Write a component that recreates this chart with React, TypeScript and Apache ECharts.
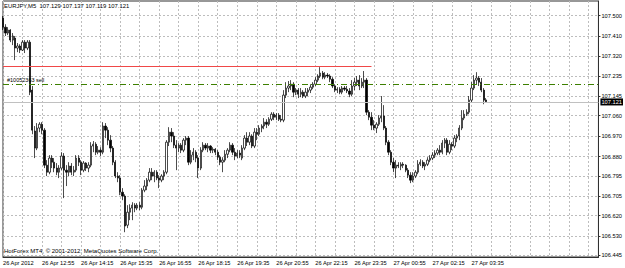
import React, { useEffect, useRef } from 'react';
import * as echarts from 'echarts';

const symbolTitle = 'EURJPY,M5';
const lastQuote = ['107.129', '107.137', '107.119', '107.121'];
const copyright = 'HotForex MT4, © 2001-2012, MetaQuotes Software Corp.';

const priceTicks = [106.445, 106.53, 106.62, 106.705, 106.795, 106.88, 106.97, 107.06, 107.145, 107.235, 107.32, 107.41, 107.5];
const timeTickLabels = [
  '26 Apr 2012', '26 Apr 12:55', '26 Apr 14:15', '26 Apr 15:35', '26 Apr 16:55', '26 Apr 18:15',
  '26 Apr 19:35', '26 Apr 20:55', '26 Apr 22:15', '26 Apr 23:35', '27 Apr 00:55', '27 Apr 02:15', '27 Apr 03:35',
];
const barsPerTimeLabel = 16;
const barsPerGridLine = 8;

// [open, close, low, high]
const bars: number[][] = [
  [107.489, 107.449, 107.436, 107.498], [107.449, 107.423, 107.410, 107.462], [107.423, 107.436, 107.414, 107.449],
  [107.436, 107.392, 107.383, 107.440], [107.392, 107.410, 107.370, 107.423], [107.401, 107.357, 107.304, 107.410],
  [107.357, 107.366, 107.339, 107.379], [107.366, 107.348, 107.335, 107.374], [107.348, 107.383, 107.344, 107.392],
  [107.383, 107.357, 107.335, 107.392], [107.357, 107.383, 107.348, 107.392], [107.383, 107.163, 107.150, 107.392],
  [107.172, 106.996, 106.978, 107.190], [106.992, 106.917, 106.873, 107.014], [106.917, 107.005, 106.908, 107.027],
  [107.005, 107.022, 106.987, 107.031], [107.022, 106.996, 106.978, 107.031], [106.996, 106.842, 106.829, 107.005],
  [106.842, 106.811, 106.794, 106.864], [106.811, 106.873, 106.802, 106.886], [106.873, 106.855, 106.829, 106.886],
  [106.855, 106.829, 106.811, 106.873], [106.829, 106.811, 106.798, 106.851], [106.811, 106.829, 106.785, 106.842],
  [106.829, 106.882, 106.820, 106.899], [106.882, 106.820, 106.697, 106.895], [106.820, 106.811, 106.750, 106.842],
  [106.811, 106.838, 106.794, 106.855], [106.838, 106.811, 106.798, 106.851], [106.811, 106.820, 106.794, 106.838],
  [106.820, 106.873, 106.811, 106.886], [106.873, 106.855, 106.838, 106.886], [106.855, 106.820, 106.798, 106.864],
  [106.820, 106.851, 106.811, 106.860], [106.851, 106.829, 106.816, 106.855], [106.829, 106.842, 106.811, 106.855],
  [106.842, 106.926, 106.833, 106.943], [106.926, 106.934, 106.899, 106.948], [106.934, 106.899, 106.886, 106.943],
  [106.899, 106.908, 106.890, 106.926], [106.908, 106.899, 106.882, 106.921], [106.899, 107.014, 106.890, 107.031],
  [107.014, 106.996, 106.961, 107.027], [106.996, 106.952, 106.930, 107.009], [106.952, 106.917, 106.899, 106.974],
  [106.917, 106.855, 106.842, 106.926], [106.855, 106.794, 106.785, 106.864], [106.794, 106.785, 106.767, 106.811],
  [106.785, 106.723, 106.710, 106.798], [106.723, 106.706, 106.688, 106.741], [106.706, 106.574, 106.547, 106.714],
  [106.578, 106.635, 106.565, 106.666], [106.635, 106.653, 106.600, 106.670], [106.653, 106.666, 106.600, 106.679],
  [106.666, 106.653, 106.635, 106.675], [106.653, 106.666, 106.644, 106.675], [106.666, 106.657, 106.644, 106.679],
  [106.657, 106.732, 106.648, 106.741], [106.732, 106.750, 106.723, 106.776], [106.750, 106.776, 106.732, 106.785],
  [106.776, 106.811, 106.767, 106.829], [106.811, 106.794, 106.776, 106.829], [106.794, 106.811, 106.767, 106.820],
  [106.811, 106.785, 106.776, 106.820], [106.785, 106.776, 106.741, 106.798], [106.776, 106.794, 106.767, 106.802],
  [106.794, 106.811, 106.776, 106.820], [106.811, 106.943, 106.802, 106.952], [106.943, 106.987, 106.926, 107.009],
  [106.987, 106.970, 106.943, 107.005], [106.970, 106.930, 106.917, 106.987], [106.930, 106.917, 106.820, 106.952],
  [106.917, 106.930, 106.899, 106.939], [106.930, 106.908, 106.895, 106.939], [106.908, 106.952, 106.899, 106.961],
  [106.952, 106.961, 106.930, 106.970], [106.961, 106.855, 106.842, 106.970], [106.855, 106.886, 106.846, 106.908],
  [106.886, 106.899, 106.864, 106.917], [106.899, 106.873, 106.855, 106.908], [106.873, 106.829, 106.785, 106.886],
  [106.829, 106.908, 106.820, 106.921], [106.908, 106.930, 106.899, 106.943], [106.930, 106.917, 106.908, 106.939],
  [106.917, 106.926, 106.899, 106.939], [106.926, 106.908, 106.895, 106.930], [106.908, 106.912, 106.895, 106.921],
  [106.912, 106.899, 106.886, 106.917], [106.899, 106.877, 106.864, 106.908], [106.877, 106.855, 106.842, 106.886],
  [106.855, 106.864, 106.811, 106.877], [106.864, 106.890, 106.855, 106.908], [106.890, 106.908, 106.873, 106.917],
  [106.908, 106.930, 106.899, 106.943], [106.930, 106.899, 106.886, 106.939], [106.899, 106.882, 106.864, 106.917],
  [106.882, 106.895, 106.873, 106.908], [106.895, 106.886, 106.873, 106.908], [106.873, 106.917, 106.864, 106.930],
  [106.917, 106.961, 106.908, 106.974], [106.961, 106.943, 106.926, 106.987], [106.943, 106.970, 106.930, 106.987],
  [106.970, 106.926, 106.917, 106.978], [106.926, 106.987, 106.917, 107.005], [106.987, 106.978, 106.952, 107.005],
  [106.978, 107.005, 106.970, 107.018], [107.005, 107.014, 106.987, 107.022], [107.014, 107.031, 107.000, 107.049],
  [107.031, 107.022, 107.005, 107.044], [107.022, 107.044, 107.014, 107.053], [107.044, 107.066, 107.036, 107.075],
  [107.066, 107.053, 107.040, 107.075], [107.053, 107.062, 107.040, 107.071], [107.062, 107.044, 107.036, 107.071],
  [107.044, 107.040, 107.031, 107.062], [107.040, 107.150, 107.031, 107.172], [107.150, 107.181, 107.137, 107.207],
  [107.181, 107.190, 107.163, 107.212], [107.190, 107.198, 107.172, 107.216], [107.198, 107.163, 107.141, 107.207],
  [107.163, 107.172, 107.150, 107.181], [107.172, 107.154, 107.137, 107.181], [107.154, 107.163, 107.141, 107.181],
  [107.163, 107.146, 107.137, 107.172], [107.146, 107.163, 107.137, 107.181], [107.163, 107.172, 107.146, 107.181],
  [107.172, 107.185, 107.159, 107.198], [107.185, 107.198, 107.176, 107.207], [107.198, 107.216, 107.190, 107.229],
  [107.216, 107.234, 107.207, 107.242], [107.234, 107.247, 107.225, 107.273], [107.247, 107.229, 107.220, 107.256],
  [107.229, 107.238, 107.220, 107.251], [107.238, 107.234, 107.225, 107.247], [107.234, 107.220, 107.207, 107.242],
  [107.220, 107.190, 107.181, 107.229], [107.190, 107.172, 107.163, 107.198], [107.172, 107.176, 107.159, 107.185],
  [107.176, 107.163, 107.154, 107.185], [107.163, 107.181, 107.154, 107.190], [107.181, 107.176, 107.168, 107.190],
  [107.176, 107.168, 107.159, 107.190], [107.168, 107.154, 107.141, 107.181], [107.154, 107.190, 107.146, 107.216],
  [107.190, 107.207, 107.172, 107.225], [107.207, 107.216, 107.190, 107.234], [107.216, 107.190, 107.172, 107.238],
  [107.190, 107.207, 107.181, 107.225], [107.207, 107.216, 107.181, 107.256], [107.216, 107.075, 107.062, 107.225],
  [107.075, 107.053, 107.040, 107.084], [107.053, 107.018, 106.996, 107.075], [107.018, 107.005, 106.996, 107.040],
  [107.005, 107.022, 106.983, 107.031], [107.022, 107.049, 107.014, 107.062], [107.049, 107.058, 107.031, 107.146],
  [107.058, 107.005, 106.996, 107.106], [107.005, 106.943, 106.930, 107.014], [106.943, 106.899, 106.886, 106.952],
  [106.899, 106.855, 106.842, 106.908], [106.855, 106.829, 106.811, 106.873], [106.829, 106.842, 106.785, 106.864],
  [106.842, 106.838, 106.829, 106.855], [106.838, 106.846, 106.820, 106.855], [106.846, 106.842, 106.829, 106.855],
  [106.842, 106.820, 106.811, 106.846], [106.820, 106.798, 106.785, 106.829], [106.798, 106.776, 106.763, 106.811],
  [106.776, 106.794, 106.767, 106.811], [106.794, 106.811, 106.785, 106.820], [106.811, 106.846, 106.802, 106.864],
  [106.846, 106.855, 106.838, 106.868], [106.855, 106.838, 106.829, 106.864], [106.838, 106.846, 106.820, 106.855],
  [106.846, 106.864, 106.838, 106.877], [106.864, 106.873, 106.855, 106.886], [106.873, 106.886, 106.864, 106.899],
  [106.886, 106.895, 106.873, 106.908], [106.895, 106.908, 106.886, 106.917], [106.908, 106.899, 106.886, 106.930],
  [106.899, 106.939, 106.890, 106.952], [106.939, 106.952, 106.917, 106.961], [106.952, 106.899, 106.886, 106.961],
  [106.899, 106.934, 106.890, 106.952], [106.934, 106.926, 106.908, 106.943], [106.926, 106.961, 106.917, 106.974],
  [106.961, 106.970, 106.943, 106.978], [106.970, 107.005, 106.952, 107.018], [107.005, 107.049, 106.996, 107.084],
  [107.049, 107.066, 107.040, 107.084], [107.066, 107.075, 107.058, 107.088], [107.075, 107.128, 107.066, 107.146],
  [107.128, 107.181, 107.119, 107.207], [107.181, 107.216, 107.172, 107.238], [107.216, 107.225, 107.198, 107.251],
  [107.225, 107.207, 107.190, 107.234], [107.207, 107.172, 107.163, 107.225], [107.172, 107.128, 107.110, 107.181],
  [107.129, 107.121, 107.119, 107.137],
];
const emptyBarsRight = 46;
const firstBar = { day: 26, hour: 11, minute: 35 };
const barMinutes = 5;

const bidPrice = 107.121;
const sellPrice = 107.2;
const sellLabel = '#10052363 sell';
const redLinePrice = 107.277;
const redLineEndBar = 151;

const FONT = 'Liberation Sans, Arial, sans-serif';
const LABEL_SIZE = 5.7;
const LABEL_MARGIN = 3;
const pad = (n: number) => (n < 10 ? '0' + n : '' + n);
const categories: string[] = [];
for (let i = 0; i < bars.length + emptyBarsRight; i++) {
  const total = firstBar.hour * 60 + firstBar.minute + i * barMinutes;
  const day = firstBar.day + Math.floor(total / 1440);
  const m = total % 1440;
  categories.push(day + ' Apr ' + pad(Math.floor(m / 60)) + ':' + pad(m % 60));
}

export default function App() {
  const ref = useRef<HTMLDivElement>(null);
  useEffect(() => {
    if (!ref.current) return;
    const chart = echarts.init(ref.current, undefined, { renderer: 'svg' });
    const gridLine = { show: true, lineStyle: { color: '#bdbdbd', type: [2, 2] as any, width: 1 } };
    const baseGraphic = [
      {
        id: 'title', type: 'text', left: 4, top: 3,
        style: { text: symbolTitle + '  ' + lastQuote.join(' '), fontSize: 5.9, fill: '#000', fontFamily: FONT },
      },
      {
        id: 'copyright', type: 'text', left: 4, top: 248,
        style: { text: copyright, fontSize: 6, fill: '#000', fontFamily: FONT },
      },
    ];
    chart.setOption({
      animation: false,
      backgroundColor: '#ffffff',
      textStyle: { fontFamily: FONT },
      grid: { left: 1, right: 24, top: 1, bottom: 11, show: true, borderColor: '#303030', borderWidth: 1, containLabel: false },
      xAxis: {
        type: 'category',
        data: categories,
        boundaryGap: false,
        axisLine: { show: true, lineStyle: { color: '#303030' } },
        axisTick: { show: false },
        splitLine: { ...gridLine, interval: barsPerGridLine - 1 },
        axisLabel: {
          interval: barsPerTimeLabel - 1,
          align: 'left',
          fontSize: LABEL_SIZE,
          color: '#000',
          margin: LABEL_MARGIN,
          fontFamily: FONT,
          formatter: (_v: string, idx: number) =>
            idx % barsPerTimeLabel === 0 ? timeTickLabels[idx / barsPerTimeLabel] ?? '' : '',
        },
      },
      yAxis: {
        type: 'value',
        position: 'right',
        min: 106.438,
        max: 107.564,
        scale: true,
        axisLine: { show: true, lineStyle: { color: '#303030' } },
        axisTick: { show: true, length: 2, customValues: priceTicks, lineStyle: { color: '#303030' } },
        splitLine: gridLine,
        axisLabel: {
          customValues: priceTicks.slice(1),
          showMinLabel: true,
          showMaxLabel: true,
          fontSize: LABEL_SIZE,
          color: '#000',
          margin: LABEL_MARGIN,
          fontFamily: FONT,
          formatter: (v: number) => v.toFixed(3),
        },
      },
      graphic: baseGraphic,
      series: [
        {
          type: 'candlestick',
          data: bars,
          barWidth: 1.8,
          itemStyle: { color: '#ffffff', color0: '#000000', borderColor: '#000000', borderColor0: '#000000', borderWidth: 0.7 },
          markLine: {
            silent: true,
            symbol: ['none', 'none'],
            animation: false,
            data: [
              {
                yAxis: bidPrice,
                lineStyle: { color: '#c0c0c0', type: 'solid', width: 1 },
                label: {
                  show: true, position: 'end', distance: 2, formatter: bidPrice.toFixed(3),
                  color: '#fff', backgroundColor: '#000', padding: [1, 1, 0, 1], fontSize: LABEL_SIZE, fontFamily: FONT,
                },
              },
              {
                yAxis: sellPrice - 0.0035,
                lineStyle: { color: '#e0a060', type: [6, 3, 1, 3], width: 1, opacity: 0.8 },
                label: { show: false },
              },
              {
                yAxis: sellPrice,
                lineStyle: { color: '#3d7f00', type: [6, 3, 1, 3], width: 1 },
                label: {
                  show: true, position: 'insideStartTop', distance: [4, 1], formatter: sellLabel,
                  color: '#000', fontSize: 5.5, fontFamily: FONT,
                },
              },
              [
                { coord: [categories[0], redLinePrice], lineStyle: { color: '#f04848', type: 'solid', width: 1 }, label: { show: false } },
                { coord: [categories[redLineEndBar], redLinePrice] },
              ],
            ],
          },
        },
      ],
    });
    // the lowest price label sits at the bottom corner of the axis; place it from the axis scale
    const yPix = chart.convertToPixel({ yAxisIndex: 0 }, priceTicks[0]) as number;
    const xPix = chart.convertToPixel({ xAxisIndex: 0 }, categories[categories.length - 1]) as number;
    chart.setOption({
      graphic: [
        ...baseGraphic,
        {
          id: 'minPriceLabel', type: 'text', x: xPix + LABEL_MARGIN, y: yPix,
          style: {
            text: priceTicks[0].toFixed(3), fontSize: LABEL_SIZE, fill: '#000', fontFamily: FONT,
            verticalAlign: 'middle', align: 'left',
          },
        },
      ],
    });
    return () => chart.dispose();
  }, []);
  return <div ref={ref} style={{ position: 'absolute', left: 0, top: 0, width: 625, height: 268 }} />;
}
